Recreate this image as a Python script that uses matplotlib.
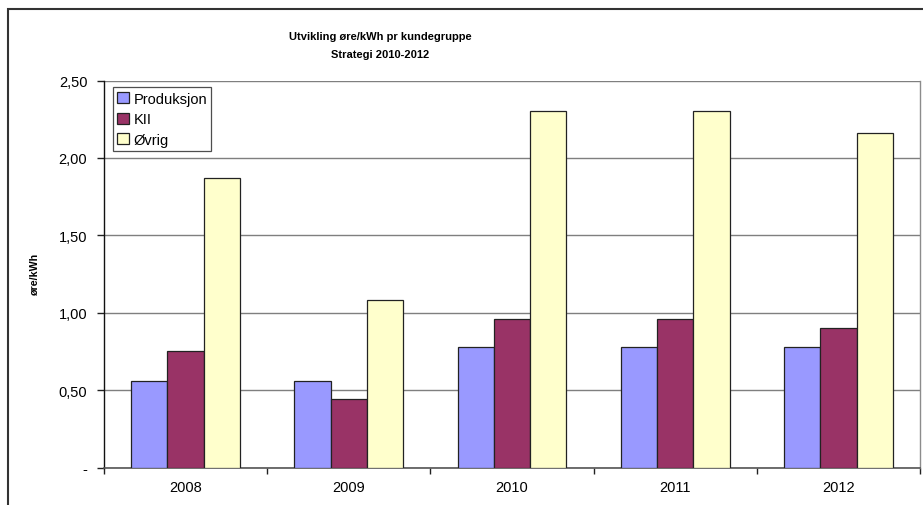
import numpy as np
import matplotlib
matplotlib.use('Agg')
import matplotlib.pyplot as plt
from matplotlib.patches import Rectangle
from matplotlib.ticker import FixedLocator, FuncFormatter

plt.rcParams['font.family'] = ['Liberation Sans', 'DejaVu Sans']

years = ['2008', '2009', '2010', '2011', '2012']
series_names = ['Produksjon', 'KII', 'Øvrig']
produksjon = [0.56, 0.56, 0.78, 0.78, 0.78]
kii = [0.75, 0.44, 0.96, 0.96, 0.90]
ovrig = [1.87, 1.08, 2.30, 2.30, 2.16]
colors = ['#9999FF', '#993366', '#FFFFCC']

W, H = 923, 506
fig = plt.figure(figsize=(W / 100, H / 100), dpi=100)
fig.patch.set_facecolor('white')

# plot area in pixels
left, right, top, bottom = 104, 920, 81.5, 468.5
ax = fig.add_axes([left / W, 1 - bottom / H, (right - left) / W, (bottom - top) / H])

x = np.arange(len(years))
bw = 0.222
for i, (vals, col, name) in enumerate(zip([produksjon, kii, ovrig], colors, series_names)):
    ax.bar(x + (i - 1) * bw, vals, width=bw, color=col, edgecolor='#222222',
           linewidth=0.9, label=name, zorder=3)

ax.set_xlim(-0.5, len(years) - 0.5)
ax.set_ylim(0, 2.5)
ax.set_yticks([0, 0.5, 1.0, 1.5, 2.0, 2.5])
ax.yaxis.set_major_formatter(FuncFormatter(
    lambda v, p: '-' if v == 0 else f'{v:.2f}'.replace('.', ',')))
ax.set_xticks(x)
ax.set_xticklabels(years)
ax.xaxis.set_minor_locator(FixedLocator(np.arange(-0.5, len(years), 1.0)))
ax.tick_params(axis='x', which='major', length=0, labelsize=10.5, pad=9)
ax.tick_params(axis='x', which='minor', length=4, width=1, color='#222222')
ax.tick_params(axis='y', length=5, width=1, labelsize=10.5, pad=7, color='#222222')

ax.grid(axis='y', color='#7f7f7f', linewidth=1, zorder=0)
ax.set_axisbelow(True)
ax.spines['top'].set_visible(False)
ax.spines['right'].set_color('#8c8c8c')
ax.spines['right'].set_linewidth(1)
ax.spines['left'].set_color('#111111')
ax.spines['left'].set_linewidth(1)
ax.spines['bottom'].set_color('#555555')
ax.spines['bottom'].set_linewidth(1.2)

ax.set_ylabel('øre/kWh', fontsize=7.7, fontweight='bold')
ax.yaxis.set_label_coords((40 - left) / (right - left), 0.5)

leg = ax.legend(loc='upper left', bbox_to_anchor=(0.011, 0.982), fontsize=10.5,
                frameon=True, fancybox=False, edgecolor='#222222',
                handlelength=0.8, handleheight=0.8, handletextpad=0.3,
                borderpad=0.3, labelspacing=0.45, borderaxespad=0)
leg.get_frame().set_linewidth(0.9)

fig.text(380 / W, 1 - 37 / H, 'Utvikling øre/kWh pr kundegruppe', ha='center', va='center',
         fontsize=8, fontweight='bold')
fig.text(380 / W, 1 - 55 / H, 'Strategi 2010-2012', ha='center', va='center',
         fontsize=8, fontweight='bold')

# chart border
fig.patches.append(Rectangle((8 / W, -0.1), 1.1, (1 - 9.5 / H) + 0.1,
                             transform=fig.transFigure, fill=False,
                             edgecolor='#333333', linewidth=1.5))

fig.savefig('out.png', dpi=100)
